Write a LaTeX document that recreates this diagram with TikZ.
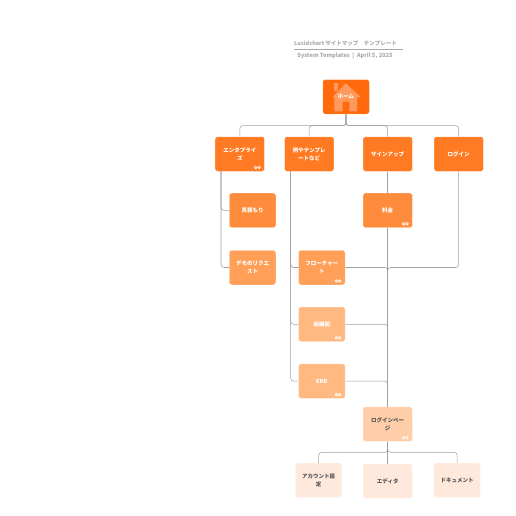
\documentclass[tikz,border=0pt]{standalone}
\usepackage{fontspec}
\setmainfont{Noto Sans CJK JP}
\usepackage{xcolor}
\usetikzlibrary{
	arrows.meta,
	positioning,
	calc
}
\definecolor{homefill}{HTML}{FF6A0D}
\definecolor{housefill}{HTML}{FF9A5E}
\definecolor{levela}{HTML}{FF7A22}
\definecolor{levelb}{HTML}{FF8C3C}
\definecolor{levelc}{HTML}{FF9F58}
\definecolor{leveld}{HTML}{FFB880}
\definecolor{levele}{HTML}{FFCDA8}
\definecolor{levelf}{HTML}{FFE9DC}
\definecolor{titlegray}{HTML}{A8A8A8}
\definecolor{darktext}{HTML}{555555}
\newcommand{\linkmark}[1]{
	\draw[white,line width=0.7pt] ($(#1.south east)+(-9,-4)$) circle (1.3pt);
	\draw[white,line width=0.7pt] ($(#1.south east)+(-5.6,-4)$) circle (1.3pt);
}

\begin{document}
\begin{tikzpicture}[x=1pt,y=-1pt,
		box/.style={rectangle,rounded corners=2.5pt,inner sep=0pt,align=center,text=white,
			draw=white,draw opacity=0.35,line width=0.5pt,
			font=\fontsize{5.5}{8}\selectfont\bfseries,minimum height=34.5pt},
		wide/.style={box,minimum width=49.3pt},
		narrow/.style={box,minimum width=46.5pt},
		dark/.style={text=darktext},
		link/.style={draw=gray!75,line width=0.55pt,rounded corners=3pt},
		heading/.style={text=titlegray,inner sep=0pt,font=\fontsize{5.5}{6}\selectfont\bfseries},
		subheading/.style={heading,font=\fontsize{5.7}{6}\selectfont\bfseries}
	]
		\useasboundingbox (0,0) rectangle (516,516);
		
		%---------------- Title ----------------%
		
		\node[heading] (title) at (345.5,43.7) {Lucidchart サイトマップ　テンプレート};
		\node[subheading] (subtitle) at (345,56) {System Templates\ \ |\ \ April 5, 2025};
		\coordinate (ruleleft) at (294,49.3);
		\coordinate (ruleright) at (402.7,49.3);
		\draw[titlegray,line width=0.5pt] (ruleleft)--(ruleright);
		
		%---------------- Home ----------------%
		
		\node[narrow,fill=homefill] (home) at (346,96.8) {};
		\fill[housefill] (334,83.3)--(338.3,83.3)--(338.3,91)--(334,91)--cycle;
		\fill[housefill] (345.7,83.3)--(361,97.3)--(357,97.3)--(357,111.3)--(349.3,111.3)--(349.3,101.7)
			--(342.7,101.7)--(342.7,111.3)--(334.3,111.3)--(334.3,97.3)--(332.3,97.3)--cycle;
		\node[box,draw=none,text=white] (homelabel) at (home.center) {ホーム};
		
		%---------------- Nodes ----------------%
		
		\node[wide,fill=levela] (enterprise) at (239.8,154) {エンタプライ\\ズ};
		\node[wide,fill=levela] (examples) at (309.2,154) {例やテンプレ\\ートなど};
		\node[wide,fill=levela] (signup) at (387.7,154) {サインアップ};
		\node[wide,fill=levela] (login) at (458.7,154) {ログイン};
		
		\node[narrow,fill=levelb] (quote) at (252.5,210.4) {見積もり};
		\node[wide,fill=levelb] (price) at (387.7,210.4) {料金};
		
		\node[narrow,fill=levelc] (demo) at (252.5,267.5) {デモのリクエ\\スト};
		\node[narrow,fill=levelc] (flow) at (321.8,267.5) {フローチャー\\ト};
		
		\node[narrow,fill=leveld] (org) at (321.8,324.3) {組織図};
		\node[narrow,fill=leveld] (erd) at (321.8,381.2) {ERD};
		
		\node[wide,dark,fill=levele] (loginpage) at (387.7,424.2) {ログインペー\\ジ};
		
		\node[narrow,dark,fill=levelf] (account) at (318.7,480.4) {アカウント設\\定};
		\node[wide,dark,fill=levelf] (editor) at (387.7,481) {エディタ};
		\node[narrow,dark,fill=levelf] (docs) at (457.2,480.4) {ドキュメント};
		
		\linkmark{enterprise}
		\linkmark{price}
		\linkmark{flow}
		\linkmark{org}
		\linkmark{erd}
		\linkmark{loginpage}
		
		%---------------- Connectors ----------------%
		
		\coordinate (homebus) at (346,125.7);
		\coordinate (entdrop) at (221,171.2);
		\coordinate (exdrop) at (290.7,171.2);
		\coordinate (merge) at (387.7,267.5);
		\coordinate (pagebus) at (387.7,452.3);
		
		\draw[link] (home.south)--(homebus)-|(enterprise.north);
		\draw[link] (home.south)--(homebus)-|(examples.north);
		\draw[link] (home.south)--(homebus)-|(signup.north);
		\draw[link] (home.south)--(homebus)-|(login.north);
		
		\draw[link] (entdrop)|-(quote.west);
		\draw[link] (entdrop)|-(demo.west);
		
		\draw[link] (exdrop)|-(flow.west);
		\draw[link] (exdrop)|-(org.west);
		\draw[link] (exdrop)|-(erd.west);
		
		\draw[link] (signup.south)--(price.north);
		\draw[link] (price.south)--(loginpage.north);
		\draw[link] (login.south)|-(merge)--(loginpage.north);
		\draw[link] (flow.east)--(merge)--(loginpage.north);
		\draw[link] (org.east)-|(loginpage.north);
		\draw[link] (erd.east)-|(loginpage.north);
		
		\draw[link] (loginpage.south)--(pagebus)-|(account.north);
		\draw[link] (loginpage.south)--(editor.north);
		\draw[link] (loginpage.south)--(pagebus)-|(docs.north);
		
	\end{tikzpicture}
\end{document}
